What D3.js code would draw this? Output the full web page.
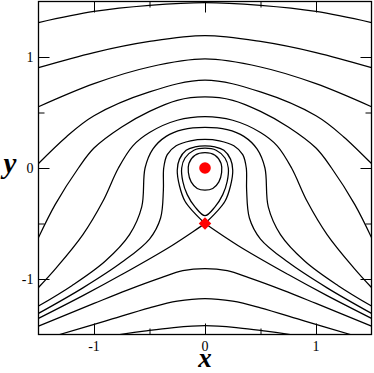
<!DOCTYPE html>
<html><head><meta charset="utf-8">
<script src="https://cdn.jsdelivr.net/npm/d3@7"></script>
<style>body{margin:0;background:#fff}svg{display:block}</style>
</head><body><svg id="c" width="374" height="373"></svg>
<script>
// ---- data (data coordinates) ----
const xTicks = [-1, 0, 1];
const yTicks = [-1, 0, 1];
const minorTicks = [-0.5, 0.5];
const curveA = [[-1.5,1.31],[-1.0,1.41],[-0.5,1.465],[0,1.49],[0.5,1.465],[1.0,1.41],[1.5,1.31]];
const curveB = [[-1.5,0.904],[-1.0,1.04],[-0.5,1.14],[0,1.193],[0.5,1.14],[1.0,1.04],[1.5,0.904]];
const curveC = [[-1.5,0.552],[-1.0,0.76],[-0.5,0.91],[0,0.982],[0.5,0.91],[1.0,0.76],[1.5,0.552]];
const curveD = [[-1.5,0.04],[-1.25,0.28],[-1.0,0.47],[-0.5,0.685],[0,0.792],[0.5,0.685],[1.0,0.47],[1.25,0.28],[1.5,0.04]];
const curveE = [[-1.5,-0.627],[-1.35,-0.33],[-1.14,0],[-1.0,0.18],[-0.75,0.37],[-0.5,0.51],[-0.25,0.61],[0,0.64],[0.25,0.61],[0.5,0.51],[0.75,0.37],[1.0,0.18],[1.14,0],[1.35,-0.33],[1.5,-0.627]];
const curveF = [[-1.5,-1.077],[-1.34,-0.9],[-1.1,-0.6],[-0.92,-0.3],[-0.78,0],[-0.65,0.2],[-0.5,0.32],[-0.25,0.43],[0,0.463],[0.25,0.43],[0.5,0.32],[0.65,0.2],[0.78,0],[0.92,-0.3],[1.1,-0.6],[1.34,-0.9],[1.5,-1.077]];
const curveG = [[-1.5,-1.244],[-1.2,-1.06],[-0.9,-0.84],[-0.68,-0.6],[-0.57,-0.35],[-0.54,0],[-0.47,0.17],[-0.35,0.285],[-0.2,0.345],[0,0.365],[0.2,0.345],[0.35,0.285],[0.47,0.17],[0.54,0],[0.57,-0.35],[0.68,-0.6],[0.9,-0.84],[1.2,-1.06],[1.5,-1.244]];
const curveH = [[-1.5,-1.31],[-1.1,-1.08],[-0.75,-0.85],[-0.5,-0.64],[-0.4,-0.45],[-0.375,-0.2],[-0.372,0],[-0.34,0.12],[-0.26,0.2],[-0.13,0.245],[0,0.258],[0.13,0.245],[0.26,0.2],[0.34,0.12],[0.372,0],[0.375,-0.2],[0.4,-0.45],[0.5,-0.64],[0.75,-0.85],[1.1,-1.08],[1.5,-1.31]];
const sepLoop = [[0,-0.5],[-0.1,-0.4],[-0.18,-0.3],[-0.23,-0.16],[-0.25,-0.02],[-0.23,0.08],[-0.17,0.16],[-0.09,0.19],[0,0.2],[0.09,0.19],[0.17,0.16],[0.23,0.08],[0.25,-0.02],[0.23,-0.16],[0.18,-0.3],[0.1,-0.4],[0,-0.5]];
const sepLeft = [[-1.5,-1.355],[-1.1,-1.15],[-0.75,-0.96],[-0.3,-0.7],[0,-0.5]];
const sepRight = [[0,-0.5],[0.3,-0.7],[0.75,-0.96],[1.1,-1.15],[1.5,-1.355]];
const loop1 = [[0,0.178],[-0.1,0.16],[-0.18,0.09],[-0.21,0],[-0.2,-0.12],[-0.16,-0.24],[-0.09,-0.35],[0,-0.43],[0.09,-0.35],[0.16,-0.24],[0.2,-0.12],[0.21,0],[0.18,0.09],[0.1,0.16]];
const loop2 = [[0,0.138],[-0.09,0.115],[-0.145,0.04],[-0.15,-0.04],[-0.125,-0.125],[-0.07,-0.185],[0,-0.2],[0.07,-0.185],[0.125,-0.125],[0.15,-0.04],[0.145,0.04],[0.09,0.115]];
const curveP1 = [[-1.5,-1.424],[-1.0,-1.22],[-0.7,-1.1],[-0.4,-0.99],[-0.2,-0.925],[0,-0.906],[0.2,-0.925],[0.4,-0.99],[0.7,-1.1],[1.0,-1.22],[1.5,-1.424]];
const curveP2 = [[-1.31,-1.5],[-0.9,-1.38],[-0.5,-1.26],[-0.25,-1.2],[0,-1.177],[0.25,-1.2],[0.5,-1.26],[0.9,-1.38],[1.31,-1.5]];
const curveP3 = [[-0.77,-1.5],[-0.55,-1.47],[-0.3,-1.44],[0,-1.421],[0.3,-1.44],[0.55,-1.47],[0.77,-1.5]];
const centerPt = [[0,0]];
const saddlePt = [[0,-0.5]];

const openCurves = [curveA,curveB,curveC,curveD,curveE,curveF,curveG,curveH,sepLoop,sepLeft,sepRight,curveP1,curveP2,curveP3];
const closedCurves = [loop1, loop2];

// ---- layout ----
const L = 38.5, R = 371.5, T = 1.5, B = 334.5;
const svg = d3.select("#c");
const x = d3.scaleLinear().domain([-1.5,1.5]).range([L,R]);
const y = d3.scaleLinear().domain([-1.5,1.5]).range([B,T]);

svg.append("clipPath").attr("id","clip").append("rect")
  .attr("x",L).attr("y",T).attr("width",R-L).attr("height",B-T);

const g = svg.append("g").attr("clip-path","url(#clip)");
const line = d3.line().x(d=>x(d[0])).y(d=>y(d[1])).curve(d3.curveCatmullRom.alpha(0.5));
const lineC = d3.line().x(d=>x(d[0])).y(d=>y(d[1])).curve(d3.curveCatmullRomClosed.alpha(0.5));

g.selectAll("path.o").data(openCurves).join("path").attr("class","o")
  .attr("d",line).attr("fill","none").attr("stroke","#000").attr("stroke-width",1.25);
g.selectAll("path.c").data(closedCurves).join("path").attr("class","c")
  .attr("d",lineC).attr("fill","none").attr("stroke","#000").attr("stroke-width",1.25);

// markers
svg.selectAll("circle.ctr").data(centerPt).join("circle").attr("class","ctr")
  .attr("cx",d=>x(d[0])).attr("cy",d=>y(d[1])).attr("r",5.8).attr("fill","#ff0000");
svg.selectAll("path.sad").data(saddlePt).join("path").attr("class","sad")
  .attr("transform",d=>`translate(${x(d[0])},${y(d[1])}) rotate(45)`)
  .attr("d",d3.symbol(d3.symbolSquare,78)).attr("fill","#ff0000");

// frame
svg.append("rect").attr("x",L).attr("y",T).attr("width",R-L).attr("height",B-T)
  .attr("fill","none").attr("stroke","#000").attr("stroke-width",1.3);

// inward ticks on all four sides
function ticks(axisFn, scale, vals, size, tx){
  const a = axisFn(scale).tickValues(vals).tickSize(size).tickFormat("");
  const gg = svg.append("g").attr("transform",tx).call(a);
  gg.select(".domain").remove();
  gg.selectAll(".tick line").attr("stroke","#000").attr("stroke-width",1);
}
ticks(d3.axisBottom, x, xTicks, -11, `translate(0,${B})`);
ticks(d3.axisBottom, x, minorTicks, -6, `translate(0,${B})`);
ticks(d3.axisTop, x, xTicks, -11, `translate(0,${T})`);
ticks(d3.axisTop, x, minorTicks, -6, `translate(0,${T})`);
ticks(d3.axisLeft, y, yTicks, -11, `translate(${L},0)`);
ticks(d3.axisLeft, y, minorTicks, -6, `translate(${L},0)`);
ticks(d3.axisRight, y, yTicks, -11, `translate(${R},0)`);
ticks(d3.axisRight, y, minorTicks, -6, `translate(${R},0)`);

// tick labels
const font = "'Liberation Serif','Times New Roman',serif";
svg.selectAll("text.xl").data(xTicks).join("text").attr("class","xl")
  .attr("x",d=>x(d)).attr("y",350.5).attr("text-anchor","middle").attr("fill","#000")
  .attr("font-family",font).attr("font-size",14).text(d=>d);
svg.selectAll("text.yl").data(yTicks).join("text").attr("class","yl")
  .attr("x",33.5).attr("y",d=>y(d)+4.8).attr("text-anchor","end").attr("fill","#000")
  .attr("font-family",font).attr("font-size",14).text(d=>d);

// axis titles
svg.append("text").attr("x",205).attr("y",366.5).attr("text-anchor","middle").attr("fill","#000")
  .attr("font-family",font).attr("font-size",27).attr("font-weight","bold").attr("font-style","italic").text("x");
svg.append("text").attr("x",10).attr("y",173).attr("text-anchor","middle").attr("fill","#000")
  .attr("font-family",font).attr("font-size",29).attr("font-weight","bold").attr("font-style","italic").text("y");
</script></body></html>
